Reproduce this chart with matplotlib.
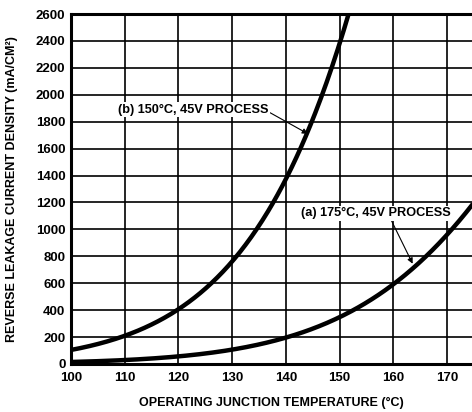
import numpy as np
import matplotlib
matplotlib.use('Agg')
from matplotlib import pyplot as plt

# curve readings (deg C -> mA/cm^2)
temp_b = [100, 105, 110, 115, 120, 125, 130, 135, 140, 145, 150, 152.5]
dens_b = [105, 150, 205, 290, 405, 570, 785, 1030, 1340, 1790, 2380, 2750]

temp_a = [100, 110, 120, 125, 130, 135, 140, 145, 150, 155, 160, 165, 170, 175]
dens_a = [15, 30, 55, 75, 110, 150, 200, 260, 340, 450, 600, 760, 960, 1200]

x_ticks = [100, 110, 120, 130, 140, 150, 160, 170]
y_ticks = list(range(0, 2601, 200))

label_b = '(b) 150°C, 45V PROCESS'
label_a = '(a) 175°C, 45V PROCESS'

plt.rcParams['font.family'] = ['Liberation Sans', 'DejaVu Sans']

fig = plt.figure(figsize=(4.72, 4.12), dpi=100)
ax = fig.add_axes([71 / 472, 1 - 364 / 412, 1 - 71 / 472, 350 / 412])


# smooth the readings in log space (cubic fit through the read points)
def smooth(t, d):
    tt = np.linspace(t[0], t[-1], 300)
    coef = np.polyfit(t, np.log(d), 3)
    return tt, np.exp(np.polyval(coef, tt))


tb, db = smooth(temp_b, dens_b)
ta, da = smooth(temp_a, dens_a)
ax.plot(tb, db, color='black', lw=3.2, solid_capstyle='butt', zorder=3)
ax.plot(ta, da, color='black', lw=3.2, solid_capstyle='butt', zorder=3)

ax.set_xlim(100, 174.65)
ax.set_ylim(0, 2600)
ax.set_xticks(x_ticks)
ax.set_yticks(y_ticks)
ax.tick_params(axis='y', length=0, labelsize=9.5, pad=4)
ax.tick_params(axis='x', length=0, labelsize=9.5, pad=6)
for lab in ax.get_xticklabels() + ax.get_yticklabels():
    lab.set_fontweight('bold')

ax.grid(True, color='black', lw=1.2)
ax.set_axisbelow(True)
for side in ['left', 'bottom', 'top']:
    ax.spines[side].set_linewidth(2.2)
ax.spines['right'].set_visible(False)

ax.set_xlabel('OPERATING JUNCTION TEMPERATURE (°C)', fontsize=9, fontweight='bold', labelpad=9)
ax.set_ylabel('REVERSE LEAKAGE CURRENT DENSITY (mA/CM²)', fontsize=9, fontweight='bold', labelpad=13)

ax.annotate(label_b, xy=(144.1, 1710), xytext=(108.8, 1890),
            fontsize=9.2, fontweight='bold', va='center', ha='left',
            bbox=dict(facecolor='white', edgecolor='none', pad=1),
            arrowprops=dict(arrowstyle='-|>', color='black', lw=0.8,
                            shrinkA=0, shrinkB=0, mutation_scale=8,
                            relpos=(1.0, 0.3)),
            zorder=4)
ax.annotate(label_a, xy=(163.6, 745), xytext=(142.8, 1120),
            fontsize=9.2, fontweight='bold', va='center', ha='left',
            bbox=dict(facecolor='white', edgecolor='none', pad=1),
            arrowprops=dict(arrowstyle='-|>', color='black', lw=0.8,
                            shrinkA=0, shrinkB=0, mutation_scale=8,
                            relpos=(0.6, 0.0)),
            zorder=4)

fig.savefig('out.png', dpi=100)
